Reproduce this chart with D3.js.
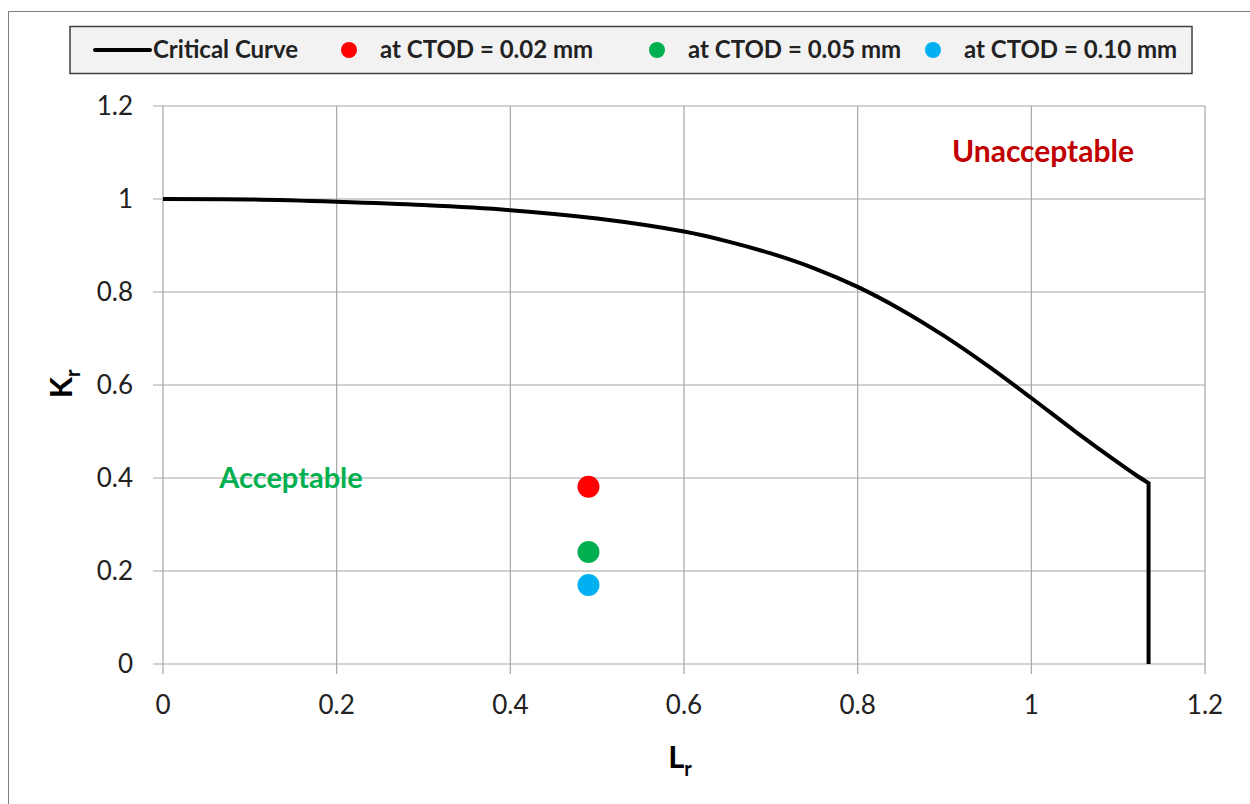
<!DOCTYPE html>
<html>
<head>
<meta charset="utf-8">
<script src="https://cdn.jsdelivr.net/npm/d3@7"></script>
<style>
body { margin: 0; background: #fff; }
svg { font-family: Lato, "Open Sans", sans-serif; }
</style>
</head>
<body>
<svg id="chart" width="1250" height="804"></svg>
<script>
// critical curve (Lr, Kr), last point is the cut-off foot
var curveLr = [0, 0.1, 0.2, 0.3, 0.4, 0.5, 0.6, 0.65, 0.7, 0.75, 0.8, 0.85, 0.9, 0.95, 1.0, 1.05, 1.1, 1.12, 1.135, 1.135];
var curveKr = [1, 0.999, 0.994, 0.987, 0.976, 0.958, 0.930, 0.909, 0.883, 0.851, 0.811, 0.762, 0.705, 0.641, 0.572, 0.501, 0.433, 0.407, 0.389, 0];

var pointNames = ["at CTOD = 0.02 mm", "at CTOD = 0.05 mm", "at CTOD = 0.10 mm"];
var pointLr = [0.49, 0.49, 0.49];
var pointKr = [0.381, 0.241, 0.17];
var pointColors = ["#ff0000", "#00b050", "#00b0f0"];

var ticks = [0, 0.2, 0.4, 0.6, 0.8, 1, 1.2];

var svg = d3.select("#chart");
var x = d3.scaleLinear().domain([0, 1.2]).range([163, 1205]);
var y = d3.scaleLinear().domain([0, 1.2]).range([664, 106]);

// outer frame
svg.append("rect").attr("x", 8.5).attr("y", 11.5).attr("width", 1260).attr("height", 820)
	.attr("fill", "none").attr("stroke", "#7f7f7f").attr("stroke-width", 1);

// gridlines
svg.append("g").selectAll("line").data(ticks).enter().append("line")
	.attr("x1", x(0) - 10).attr("x2", x(1.2))
	.attr("y1", d => y(d)).attr("y2", d => y(d))
	.attr("stroke", "#a6a6a6").attr("stroke-width", 1.2);
svg.append("g").selectAll("line").data(ticks).enter().append("line")
	.attr("x1", d => x(d)).attr("x2", d => x(d))
	.attr("y1", y(1.2)).attr("y2", y(0) + 10)
	.attr("stroke", "#a6a6a6").attr("stroke-width", 1.2);

// tick labels
svg.append("g").selectAll("text").data(ticks).enter().append("text")
	.attr("x", 133).attr("y", d => y(d)).attr("dy", "0.35em")
	.attr("text-anchor", "end").attr("font-size", 26).attr("fill", "#222")
	.text(d => d);
svg.append("g").selectAll("text").data(ticks).enter().append("text")
	.attr("x", d => x(d)).attr("y", 705).attr("dy", "0.35em")
	.attr("text-anchor", "middle").attr("font-size", 26).attr("fill", "#222")
	.text(d => d);

// axis titles
var kt = svg.append("text").attr("transform", "translate(72,384) rotate(-90)")
	.attr("text-anchor", "middle").attr("font-size", 31).attr("font-weight", "bold");
kt.append("tspan").text("K");
kt.append("tspan").attr("font-size", 20).attr("dy", 8).text("r");
var lt = svg.append("text").attr("x", 680).attr("y", 768)
	.attr("text-anchor", "middle").attr("font-size", 31).attr("font-weight", "bold");
lt.append("tspan").text("L");
lt.append("tspan").attr("font-size", 20).attr("dy", 8).text("r");

// critical curve: smooth part, then vertical cut-off in the same path
var n = curveLr.length;
var smooth = d3.line().curve(d3.curveCatmullRom.alpha(0.5))
	.x(i => x(curveLr[i])).y(i => y(curveKr[i]));
svg.append("path")
	.attr("d", smooth(d3.range(0, n - 1)) + "L" + x(curveLr[n - 1]) + "," + y(curveKr[n - 1]))
	.attr("fill", "none").attr("stroke", "#000").attr("stroke-width", 4).attr("stroke-linejoin", "miter");

// assessment points
svg.append("g").selectAll("circle").data(pointKr).enter().append("circle")
	.attr("cx", (d, i) => x(pointLr[i])).attr("cy", d => y(d)).attr("r", 11)
	.attr("fill", (d, i) => pointColors[i]);

// region labels
svg.append("text").attr("x", 1043).attr("y", 151).attr("dy", "0.35em").attr("text-anchor", "middle")
	.attr("font-size", 30).attr("font-weight", "bold").attr("fill", "#c00000").text("Unacceptable");
svg.append("text").attr("x", 291).attr("y", 478).attr("dy", "0.35em").attr("text-anchor", "middle")
	.attr("font-size", 29).attr("font-weight", "bold").attr("fill", "#00b050").text("Acceptable");

// legend
var lg = svg.append("g");
lg.append("rect").attr("x", 70).attr("y", 26.5).attr("width", 1122).attr("height", 47)
	.attr("fill", "#f2f2f2").attr("stroke", "#404040").attr("stroke-width", 1.5);
lg.append("line").attr("x1", 95).attr("x2", 150).attr("y1", 50).attr("y2", 50)
	.attr("stroke", "#000").attr("stroke-width", 4).attr("stroke-linecap", "round");
lg.append("text").attr("x", 153).attr("y", 50).attr("dy", "0.35em").attr("font-size", 24)
	.attr("font-weight", "bold").attr("fill", "#222").text("Critical Curve");
var legX = [349, 657, 933];
pointNames.forEach((name, i) => {
	lg.append("circle").attr("cx", legX[i]).attr("cy", 50).attr("r", 8).attr("fill", pointColors[i]);
	lg.append("text").attr("x", legX[i] + 31).attr("y", 50).attr("dy", "0.35em").attr("font-size", 24)
		.attr("font-weight", "bold").attr("fill", "#222").text(name);
});
</script>
</body>
</html>
